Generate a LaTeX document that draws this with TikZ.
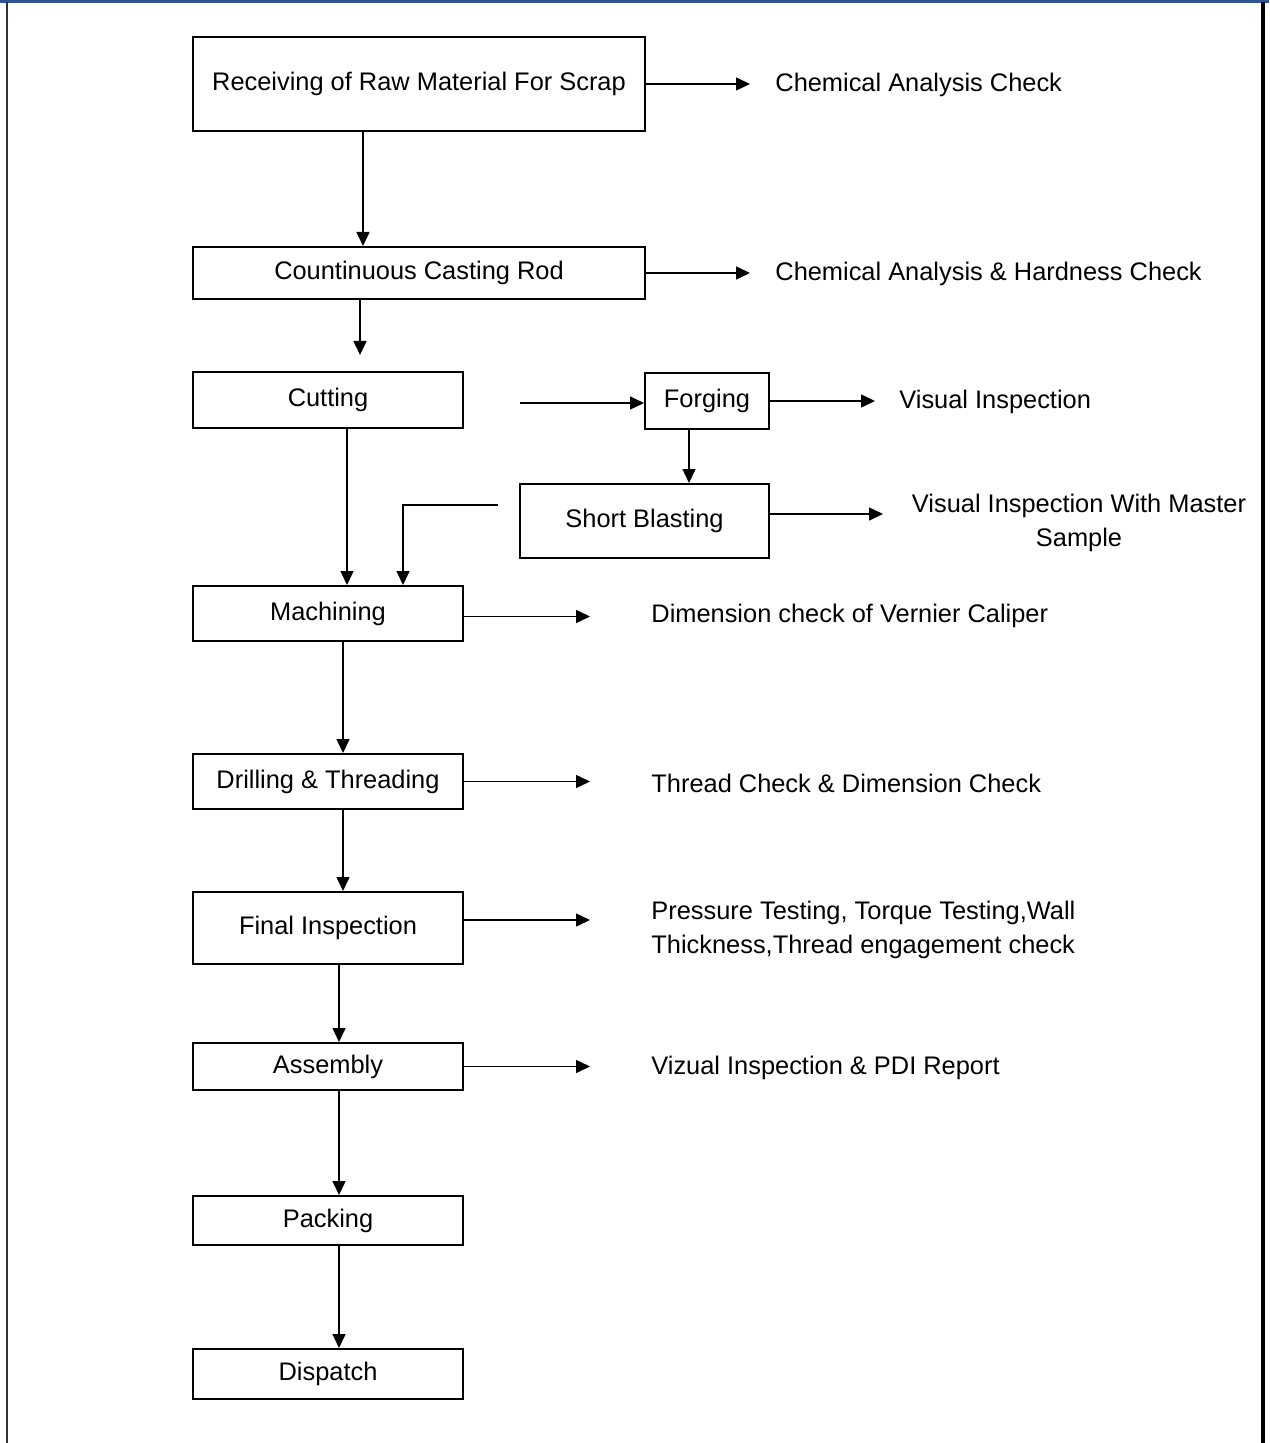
\documentclass[tikz,border=0pt]{standalone}
\usepackage{fontspec}
\setsansfont{Liberation Sans}
\usetikzlibrary{arrows.meta}
\usetikzlibrary{positioning}
\definecolor{rulebl}{RGB}{47,84,150}

\begin{document}
\begin{tikzpicture}[
          x=0.5pt, y=-0.5pt,
          proc/.style={
            draw,
            line width=1pt,
            rectangle,
            inner sep=0pt,
            font=\sffamily\fontsize{12.7}{17}\selectfont},
          check/.style={
            anchor=west,
            inner sep=0pt,
            font=\sffamily\fontsize{12.7}{17}\selectfont},
          arr/.style={
            line width=0.75pt,
            -{Triangle[length=7pt,width=6.5pt]}},
        ]
          \useasboundingbox (0,0) rectangle (1269,1443);
          % page frame
          \draw[rulebl, line width=2pt] (0,1.5) -- (1269,1.5);
          \draw[black!80, line width=1pt] (7,2) -- (7,1443);
          \draw[line width=1.6pt] (1263,2) -- (1263,1443);

          % process chain
          \node[proc, minimum width=226pt, minimum height=47pt] (1) at (419,84) {Receiving of Raw Material For Scrap};
          \node[proc, minimum width=226pt, minimum height=26pt] (2) at (419,273) {Countinuous Casting Rod};
          \node[proc, minimum width=135pt, minimum height=28pt] (3) at (328,400) {Cutting};
          \node[proc, minimum width=62pt, minimum height=28pt] (3a) at (707,401) {Forging};
          \node[proc, minimum width=124.5pt, minimum height=37pt] (3b) at (644.5,521) {Short Blasting};
          \node[proc, minimum width=135pt, minimum height=27.5pt] (4) at (328,613.5) {Machining};
          \node[proc, minimum width=135pt, minimum height=27.5pt] (5) at (328,781.5) {Drilling \& Threading};
          \node[proc, minimum width=135pt, minimum height=36pt] (6) at (328,928) {Final Inspection};
          \node[proc, minimum width=135pt, minimum height=23.5pt] (7) at (328,1066.5) {Assembly};
          \node[proc, minimum width=135pt, minimum height=24.5pt] (8) at (328,1220.5) {Packing};
          \node[proc, minimum width=135pt, minimum height=25pt] (9) at (328,1374) {Dispatch};

          % checks
          \node[check] (c1) at (775,85) {Chemical Analysis Check};
          \node[check] (c2) at (775,274) {Chemical Analysis \& Hardness Check};
          \node[check] (c3a) at (899,402) {Visual Inspection};
          \node[check, anchor=center, align=center] (c3b) at (1079,523) {Visual Inspection With Master\\Sample};
          \node[check] (c4) at (651,616) {Dimension check of Vernier Caliper};
          \node[check] (c5) at (651,783) {Thread Check \& Dimension Check};
          \node[check, align=left] (c6) at (651,930) {Pressure Testing, Torque Testing,Wall\\Thickness,Thread engagement check};
          \node[check] (c7) at (651,1068) {Vizual Inspection \& PDI Report};

          \coordinate (cf) at (520,403);
          \coordinate (sb) at (498,505);
          \coordinate (sbe) at (883,514);

          % downward flow
          \draw[arr] (1.south -| 363,0) -- (2.north -| 363,0);
          \draw[arr, shorten >=8pt] (2.south -| 360,0) -- (3.north -| 360,0);
          \draw[arr] (3.south -| 347,0) -- (4.north -| 347,0);
          \draw[arr] (cf) -- (cf -| 3a.west);
          \draw[arr] (3a.south -| 689,0) -- (3b.north -| 689,0);
          \draw[arr] (sb) -| (4.north -| 403,0);
          \draw[arr] (4.south -| 343,0) -- (5.north -| 343,0);
          \draw[arr] (5.south -| 343,0) -- (6.north -| 343,0);
          \draw[arr] (6.south -| 339,0) -- (7.north -| 339,0);
          \draw[arr] (7.south -| 339,0) -- (8.north -| 339,0);
          \draw[arr] (8.south -| 339,0) -- (9.north -| 339,0);

          % side checks
          \draw[arr, shorten >=12.5pt] (1.east) -- (1.east -| c1.west);
          \draw[arr, shorten >=12.5pt] (2.east) -- (2.east -| c2.west);
          \draw[arr, shorten >=12pt] (3a.east) -- (3a.east -| c3a.west);
          \draw[arr] (3b.east |- sbe) -- (sbe);
          \draw[arr, shorten >=30.5pt] ([yshift=-1.5pt]4.east) -- ([yshift=-1.5pt]4.east -| c4.west);
          \draw[arr, shorten >=30.5pt] (5.east) -- (5.east -| c5.west);
          \draw[arr, shorten >=30.5pt] ([yshift=4pt]6.east) -- ([yshift=4pt]6.east -| c6.west);
          \draw[arr, shorten >=30.5pt] (7.east) -- (7.east -| c7.west);
        \end{tikzpicture}
\end{document}
